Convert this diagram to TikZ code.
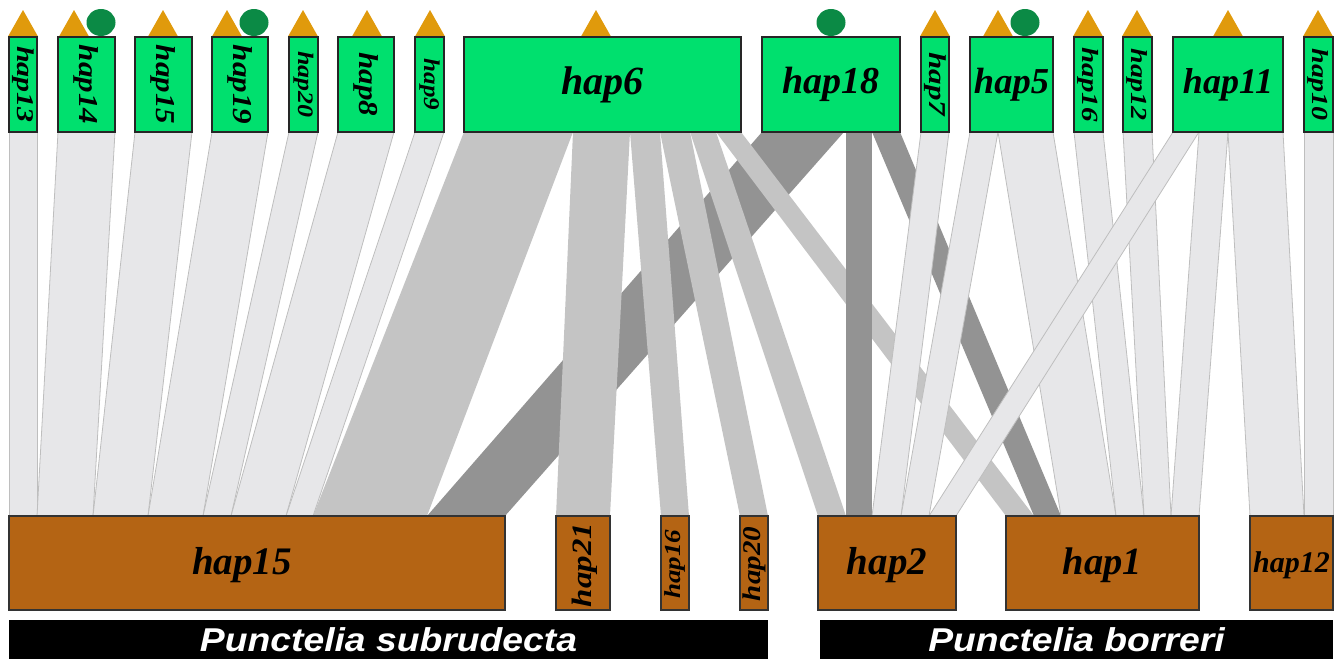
\documentclass[tikz,border=0pt]{standalone}
\usepackage{fontspec}
\setmainfont{Liberation Serif}
\newfontfamily\barfont{Liberation Sans}
\usetikzlibrary{calc}
\definecolor{topgreen}{HTML}{00E06E}
\definecolor{botbrown}{HTML}{B46414}
\definecolor{tricol}{HTML}{E09A0C}
\definecolor{dotcol}{HTML}{0B8A45}
\definecolor{bandlight}{HTML}{E7E7E9}
\definecolor{bandedge}{HTML}{BEBEBE}
\definecolor{bandmid}{HTML}{C4C4C4}
\definecolor{banddark}{HTML}{939393}
\pgfdeclarelayer{bg}
\pgfsetlayers{bg,main}
\newcommand{\fs}[1]{\fontsize{#1}{#1}\selectfont\bfseries\itshape}
% top node, top left off, top right off, bottom node, bottom left off, bottom right off, style
\newcommand{\hband}[7]{\path[#7] ($(#1.south west)+(#2,0)$) -- ($(#1.south west)+(#3,0)$) -- ($(#4.north west)+(#6,0)$) -- ($(#4.north west)+(#5,0)$) -- cycle;}
\newcommand{\tri}[1]{\fill[tricol] (#1-15,36.5) -- (#1,10) -- (#1+15,36.5) -- cycle;}
\newcommand{\dotm}[1]{\fill[dotcol] (#1,22.5) ellipse [x radius=14.5pt, y radius=13.5pt];}
\tikzset{
  topbox/.style={draw=black!85, line width=1.3pt, fill=topgreen, minimum height=95pt, inner sep=0pt, outer sep=0pt, anchor=north west},
  botbox/.style={draw=black!80, line width=1.2pt, fill=botbrown, minimum height=94pt, inner sep=0pt, outer sep=0pt, anchor=north west},
  lab/.style={inner sep=0pt, outer sep=0pt, text=black},
  bar/.style={fill=black, text=white, font=\barfont\fontsize{33}{33}\selectfont\bfseries\itshape, minimum height=39pt, inner sep=0pt, outer sep=0pt, anchor=north west},
  lightband/.style={fill=bandlight, draw=bandedge, line width=0.8pt},
  midband/.style={fill=bandmid},
  darkband/.style={fill=banddark}
}
\begin{document}
\begin{tikzpicture}[x=1pt,y=-1pt]
\useasboundingbox (0,0) rectangle (1336,659);
% markers
\tri{23} \tri{74} \dotm{101}
\tri{163}
\tri{227} \dotm{254}
\tri{303} \tri{367} \tri{430}
\tri{596}
\dotm{831}
\tri{935}
\tri{998} \dotm{1025}
\tri{1088} \tri{1137} \tri{1228} \tri{1318}
% top boxes
\node[topbox, minimum width=28pt] (t13) at (9,37) {};
\node[topbox, minimum width=57pt] (t14) at (58,37) {};
\node[topbox, minimum width=57pt] (t15) at (135,37) {};
\node[topbox, minimum width=56pt] (t19) at (212,37) {};
\node[topbox, minimum width=29pt] (t20) at (289,37) {};
\node[topbox, minimum width=56pt] (t8) at (338,37) {};
\node[topbox, minimum width=29pt] (t9) at (415,37) {};
\node[topbox, minimum width=277pt] (t6) at (464,37) {};
\node[topbox, minimum width=138pt] (t18) at (762,37) {};
\node[topbox, minimum width=28pt] (t7) at (921,37) {};
\node[topbox, minimum width=83pt] (t5) at (970,37) {};
\node[topbox, minimum width=29pt] (t16) at (1074,37) {};
\node[topbox, minimum width=29pt] (t12) at (1123,37) {};
\node[topbox, minimum width=110pt] (t11) at (1173,37) {};
\node[topbox, minimum width=29pt] (t10) at (1304,37) {};
% bottom boxes
\node[botbox, minimum width=496pt] (b15) at (9,516) {};
\node[botbox, minimum width=54pt] (b21) at (556,516) {};
\node[botbox, minimum width=28pt] (b16) at (661,516) {};
\node[botbox, minimum width=28pt] (b20) at (740,516) {};
\node[botbox, minimum width=138pt] (b2) at (818,516) {};
\node[botbox, minimum width=193pt] (b1) at (1006,516) {};
\node[botbox, minimum width=83pt] (b12) at (1250,516) {};
% top labels
\node[lab, rotate=-90, font={\fs{30}}] (l13) at (t13.center) {\scalebox{1}[0.8]{hap13}};
\node[lab, rotate=-90, font={\fs{31}}] (l14) at (t14.center) {\scalebox{1}[0.88]{hap14}};
\node[lab, rotate=-90, font={\fs{31}}] (l15) at (t15.center) {\scalebox{1}[0.88]{hap15}};
\node[lab, rotate=-90, font={\fs{31}}] (l19) at (t19.center) {\scalebox{1}[0.88]{hap19}};
\node[lab, rotate=-90, font={\fs{26}}] (l20) at (t20.center) {\scalebox{1}[0.85]{hap20}};
\node[lab, rotate=-90, font={\fs{31}}] (l8) at (t8.center) {\scalebox{1}[0.88]{hap8}};
\node[lab, rotate=-90, font={\fs{25}}] (l9) at (t9.center) {\scalebox{1}[0.9]{hap9}};
\node[lab, font={\fs{40}}] (l6) at (t6.center) {hap6};
\node[lab, font={\fs{38}}] (l18) at (t18.center) {hap18};
\node[lab, rotate=-90, font={\fs{31}}] (l7) at (t7.center) {\scalebox{1}[0.78]{hap7}};
\node[lab, font={\fs{36.5}}] (l5) at (t5.center) {hap5};
\node[lab, rotate=-90, font={\fs{29}}] (l16) at (t16.center) {\scalebox{1}[0.8]{hap16}};
\node[lab, rotate=-90, font={\fs{28}}] (l12) at (t12.center) {\scalebox{1}[0.82]{hap12}};
\node[lab, font={\fs{36}}] (l11) at (t11.center) {hap11};
\node[lab, rotate=-90, font={\fs{28}}] (l10) at (t10.center) {\scalebox{1}[0.82]{hap10}};
% bottom labels
\node[lab, font={\fs{39}}] (m15) at ($(b15.center)+(-15,2)$) {hap15};
\node[lab, rotate=90, font={\fs{33}}] (m21) at ($(b21.center)+(2,2)$) {\scalebox{1}[0.85]{hap21}};
\node[lab, rotate=90, font={\fs{27}}] (m16) at ($(b16.center)+(0,1)$) {\scalebox{1}[0.85]{hap16}};
\node[lab, rotate=90, font={\fs{29}}] (m20) at ($(b20.center)+(0,1)$) {\scalebox{1}[0.88]{hap20}};
\node[lab, font={\fs{39}}] (m2) at ($(b2.center)+(0,2)$) {hap2};
\node[lab, font={\fs{38.5}}] (m1) at ($(b1.center)+(0,2)$) {hap1};
\node[lab, font={\fs{30}}] (m12) at ($(b12.center)+(0,2)$) {hap12};
% species bars
\node[bar, minimum width=759pt] (barL) at (9,620) {\scalebox{1.13}[1]{Punctelia subrudecta}};
\node[bar, minimum width=513pt] (barR) at (820,620) {\scalebox{1.13}[1]{Punctelia borreri}};
% bands
\begin{pgfonlayer}{bg}
\hband{t18}{0}{82}{b15}{418}{496}{darkband}
\hband{t6}{0}{109}{b15}{304}{418}{midband}
\hband{t6}{109}{166}{b21}{0}{54}{midband}
\hband{t6}{166}{196}{b16}{0}{28}{midband}
\hband{t6}{196}{226}{b20}{0}{28}{midband}
\hband{t6}{226}{252}{b2}{0}{28}{midband}
\hband{t6}{252}{277}{b1}{0}{28}{midband}
\hband{t18}{84}{110}{b2}{28}{54}{darkband}
\hband{t18}{110}{138}{b1}{28}{55}{darkband}
\hband{t13}{0}{28}{b15}{0}{28}{lightband}
\hband{t14}{0}{57}{b15}{28}{84}{lightband}
\hband{t15}{0}{57}{b15}{84}{139}{lightband}
\hband{t19}{0}{56}{b15}{139}{194}{lightband}
\hband{t20}{0}{29}{b15}{194}{222}{lightband}
\hband{t8}{0}{56}{b15}{222}{277}{lightband}
\hband{t9}{0}{29}{b15}{277}{304}{lightband}
\hband{t7}{0}{28}{b2}{54}{83}{lightband}
\hband{t5}{0}{28}{b2}{83}{111}{lightband}
\hband{t5}{28}{83}{b1}{55}{110}{lightband}
\hband{t16}{0}{29}{b1}{110}{138}{lightband}
\hband{t12}{0}{29}{b1}{138}{165}{lightband}
\hband{t11}{26}{55}{b1}{165}{193}{lightband}
\hband{t11}{55}{110}{b12}{0}{54}{lightband}
\hband{t10}{0}{29}{b12}{54}{83}{lightband}
\hband{t11}{0}{26}{b2}{111}{138}{lightband}
\end{pgfonlayer}
\end{tikzpicture}
\end{document}
